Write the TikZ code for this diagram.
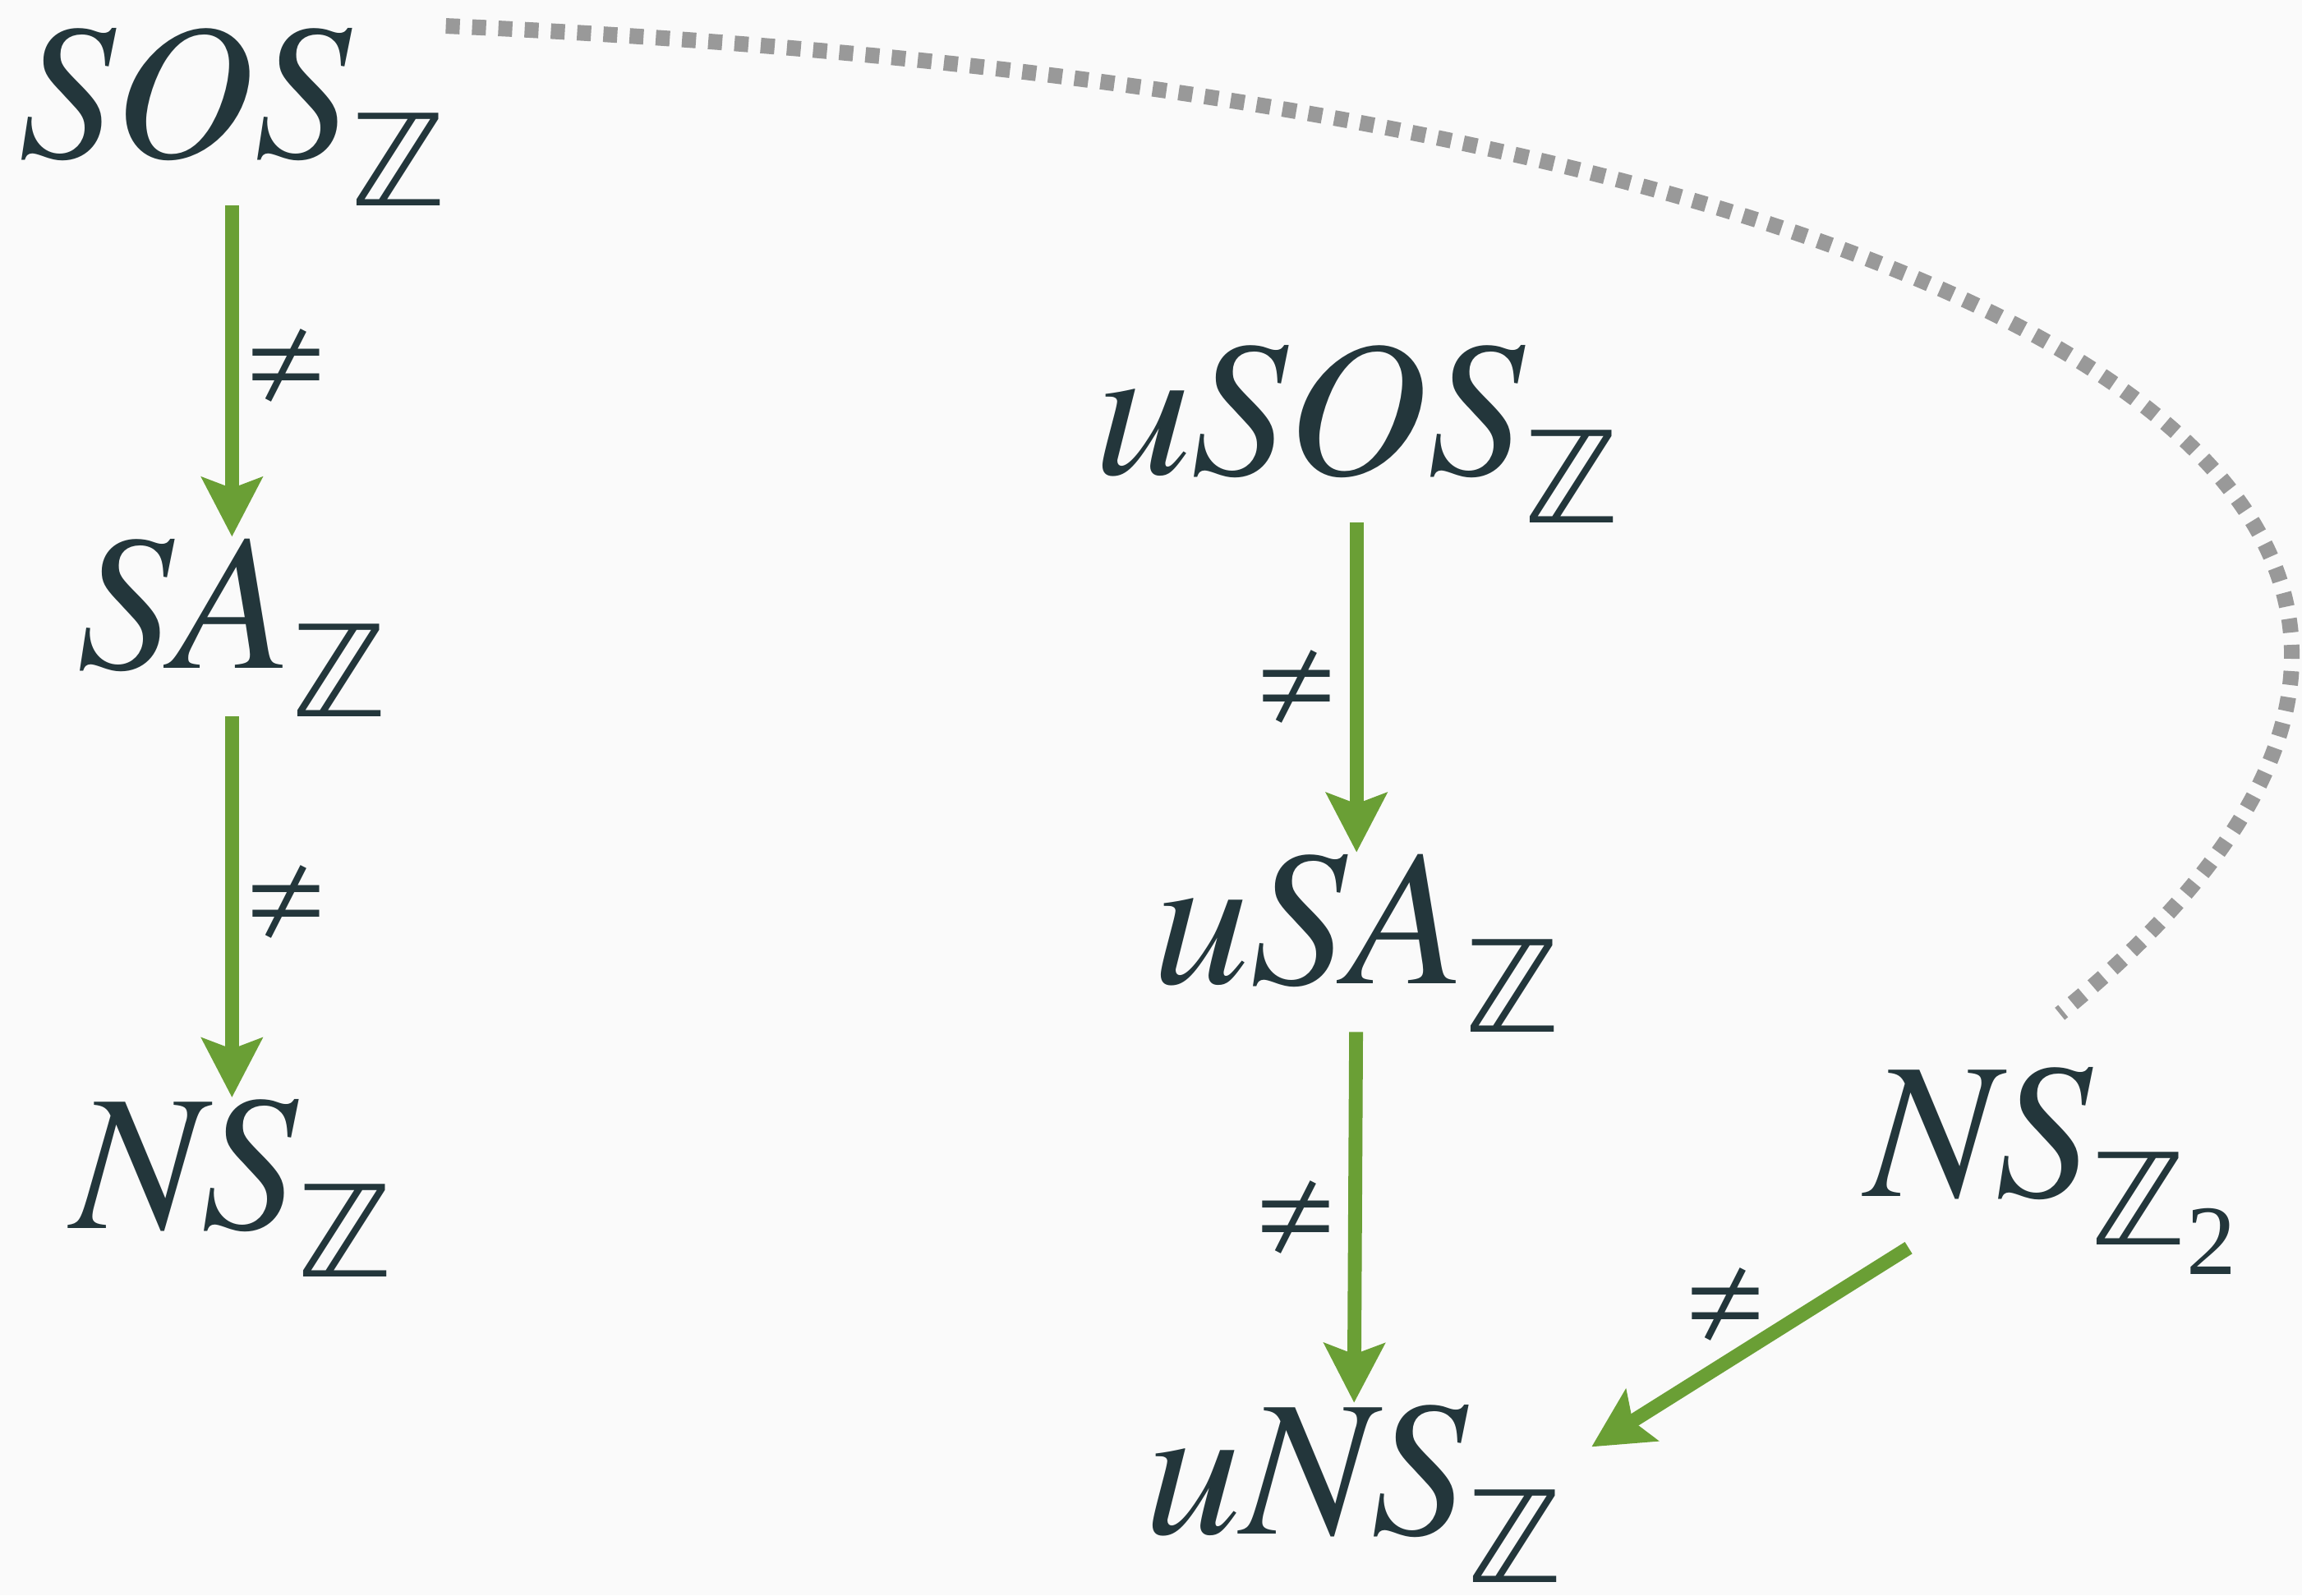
\documentclass[tikz,border=0pt]{standalone}
\usepackage{fontspec}
\setmainfont{Liberation Serif}
\newfontfamily\dsfont{DejaVu Sans}
\usepackage{tikz}
\usetikzlibrary{arrows.meta, positioning, calc}
\definecolor{inkslate}{HTML}{23363B}
\definecolor{leafgreen}{HTML}{6A9F35}
\definecolor{dotgray}{HTML}{999999}
\definecolor{paper}{HTML}{FAFAFA}
\newcommand\timesit{\fontencoding{T1}\fontfamily{ptm}\fontshape{it}\selectfont}
\newcommand\neqsign{{\usefont{U}{psy}{m}{n}\symbol{185}}}
\newcommand\zsub{\raisebox{-16.8pt}{\fontsize{44}{46}\dsfont ℤ}}
\newcommand\ztwosub{\raisebox{-16.8pt}{\fontsize{44}{46}\dsfont ℤ\raisebox{-10.2pt}{\fontsize{34.5}{36}\rmfamily\upshape 2}}}

\begin{document}
\begin{tikzpicture}[
    x=0.1787mm, y=-0.1787mm,
    obj/.style={
        inner sep=0pt, outer sep=0pt, anchor=base,
        text=inkslate, font=\fontsize{67}{72}\timesit
    },
    rel/.style={
        inner sep=0pt, text=inkslate, font=\fontsize{44}{46}\selectfont
    },
    arr/.style={-{Stealth[length=7.2mm, width=7.3mm, inset=1.3mm]},
        line width=4.8pt, draw=leafgreen},
    link/.style={draw=dotgray, line width=5.4pt, dash pattern=on 1.7mm off 1.5mm}
]
\fill[paper] (0,0) rectangle (1568,1087);
\useasboundingbox (0,0) rectangle (1568,1087);

\node[obj] (sosZ)   at (158,107)  {SOS\zsub};
\node[obj] (saZ)    at (158,455)  {SA\zsub};
\node[obj] (nsZ)    at (158,837)  {NS\zsub};
\node[obj] (usosZ)  at (924,323)  {uSOS\zsub};
\node[obj] (usaZ)   at (924,670)  {uSA\zsub};
\node[obj] (unsZ)   at (922,1045) {uNS\zsub};
\node[obj] (nsZtwo) at (1397,815) {NS\ztwosub};

\draw[arr] (sosZ) -- node[rel, right=1.5mm, yshift=0.6mm] {\neqsign} (saZ);
\draw[arr] (saZ)  -- node[rel, right=1.5mm, yshift=0.6mm] {\neqsign} (nsZ);
\draw[arr] (usosZ) -- node[rel, left=2.2mm] {\neqsign} (usaZ);
\draw[arr] (usaZ)  -- node[rel, left=2.2mm] {\neqsign} (unsZ);
\draw[arr] ($(nsZtwo.south)+(-97,-18)$) -- node[rel, above=0mm, xshift=-3mm] {\neqsign} ($(unsZ.north east)+(20,30)$);

\draw[link] (sosZ.north east) .. controls +(1003,44) and +(447,-363) .. ($(nsZtwo.north)+(6,-35)$);

\end{tikzpicture}
\end{document}
